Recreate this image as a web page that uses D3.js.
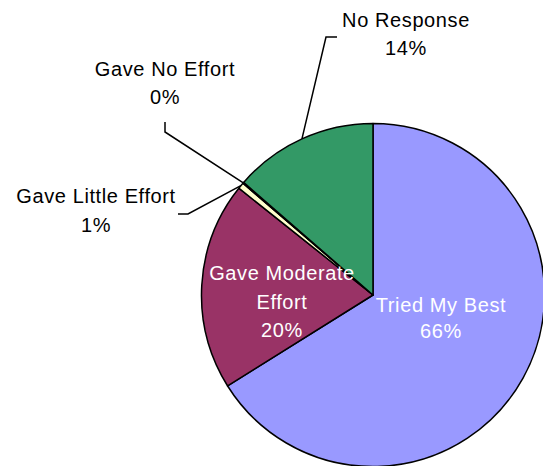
<!DOCTYPE html>
<html>
<head>
<meta charset="utf-8">
<script src="https://cdn.jsdelivr.net/npm/d3@7"></script>
<style>
  html, body { margin: 0; padding: 0; background: #fff; }
  svg { display: block; }
  text { font-family: "Liberation Sans", Arial, sans-serif; font-size: 20px; letter-spacing: 0.6px; }
</style>
</head>
<body>
<svg id="chart" width="543" height="466"></svg>
<script>
// ---- data ----
const categories = ["Tried My Best", "Gave Moderate Effort", "Gave Little Effort", "Gave No Effort", "No Response"];
const values = [66.1, 19.6, 0.6, 0.1, 13.6];
const colors = ["#9999FF", "#993366", "#FFFFCC", "#FFFFCC", "#339966"];
const labelLines = [["Tried My Best"], ["Gave Moderate", "Effort"], ["Gave Little Effort"], ["Gave No Effort"], ["No Response"]];

// ---- layout ----
const cx = 373, cy = 295, R = 171.5;
const layout = {
  "Tried My Best":        { x: 441, y: 312, inside: true, lh: 26 },
  "Gave Moderate Effort": { x: 282, y: 280, inside: true, lh: 28.5 },
  "Gave Little Effort":   { x: 96,  y: 203, inside: false, lh: 28.5, elbow: [188, 214], end: [178, 214] },
  "Gave No Effort":       { x: 165, y: 76,  inside: false, lh: 28, elbow: [165, 132], end: [165, 122] },
  "No Response":          { x: 406, y: 27,  inside: false, lh: 28, elbow: [326, 37], end: [337, 37] }
};

const svg = d3.select("#chart");
const total = d3.sum(values);
const data = categories.map((c, i) => ({ cat: c, value: values[i], color: colors[i], lines: labelLines[i] }));

const pie = d3.pie().value(d => d.value).sort(null).startAngle(0).endAngle(2 * Math.PI);
const arcs = pie(data);
const arc = d3.arc().innerRadius(0).outerRadius(R);

const g = svg.append("g").attr("transform", `translate(${cx},${cy})`);
g.selectAll("path.slice").data(arcs).enter().append("path")
  .attr("class", "slice")
  .attr("d", arc)
  .attr("fill", d => d.data.color)
  .attr("stroke", "#000")
  .attr("stroke-width", 1.5)
  .attr("stroke-linejoin", "round");

const fmt = v => Math.round(v / total * 100) + "%";

// leader lines
arcs.forEach(a => {
  const L = layout[a.data.cat];
  if (L.inside) return;
  const mid = (a.startAngle + a.endAngle) / 2;
  const px = cx + R * Math.sin(mid), py = cy - R * Math.cos(mid);
  svg.append("path")
    .attr("d", d3.line()([[px, py], L.elbow, L.end]))
    .attr("fill", "none")
    .attr("stroke", "#000")
    .attr("stroke-width", 1.5);
});

// labels
arcs.forEach(a => {
  const L = layout[a.data.cat];
  const lines = a.data.lines.concat([fmt(a.data.value)]);
  const t = svg.append("text")
    .attr("text-anchor", "middle")
    .attr("fill", L.inside ? "#fff" : "#000");
  lines.forEach((s, i) => {
    t.append("tspan").attr("x", L.x).attr("y", L.y + i * L.lh).text(s);
  });
});
</script>
</body>
</html>
